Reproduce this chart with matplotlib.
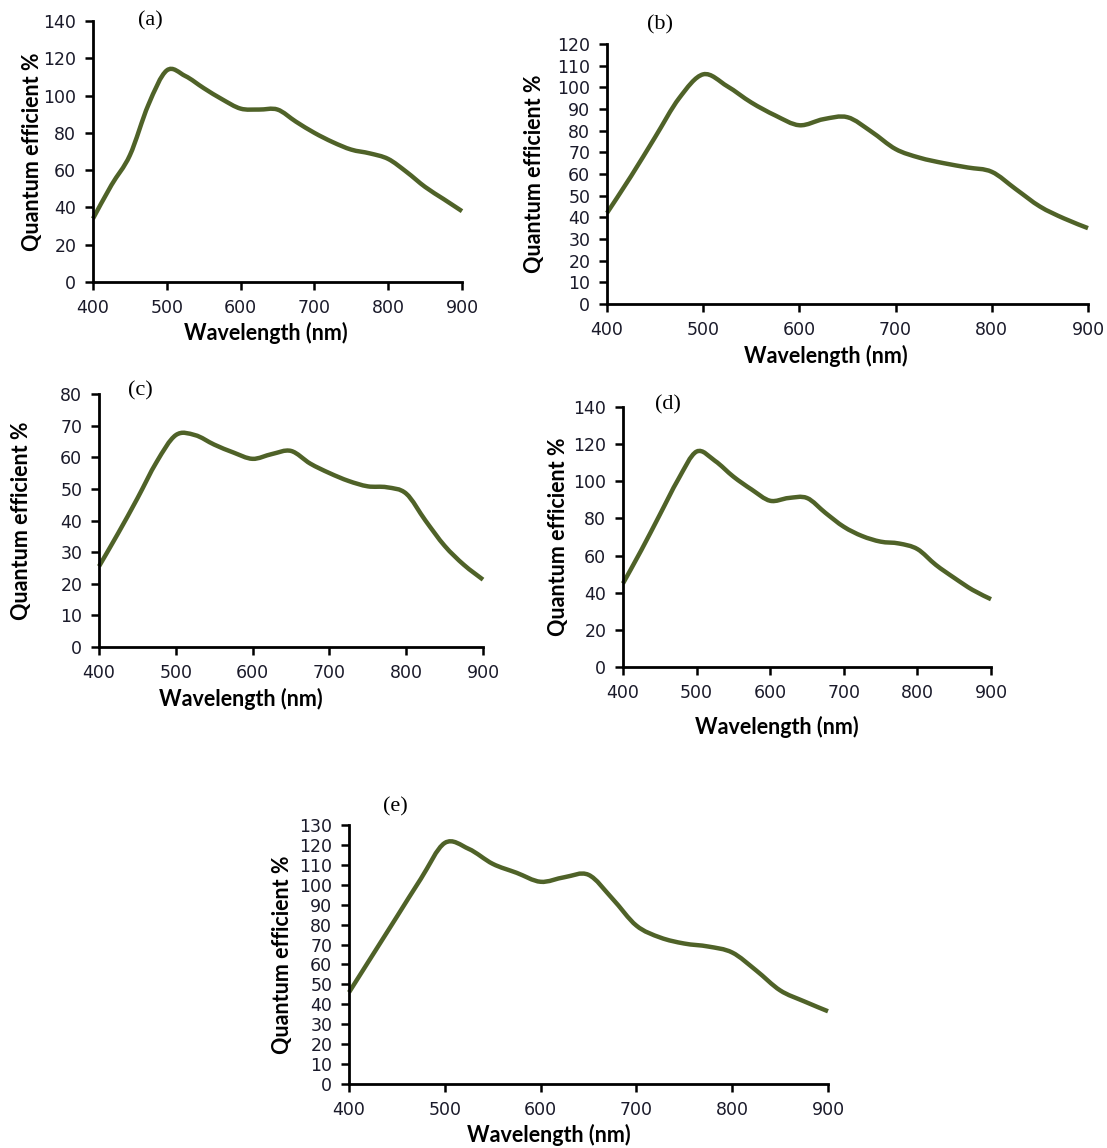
import numpy as np
from matplotlib import pyplot as plt
from matplotlib.path import Path
from matplotlib.patches import PathPatch

plt.rcParams['font.family'] = ['DejaVu Sans']

# wavelength grid (nm) and quantum efficiency (%)
wl = [400, 425, 450, 475, 500, 525, 550, 575, 600, 625, 650,
      675, 700, 725, 750, 775, 800, 825, 850, 875, 900]
qe_a = [34, 52, 68, 95, 113.5, 110.5, 104, 98, 93, 92.5, 92.5,
        86, 80, 75, 71, 69, 66, 59, 51, 44.5, 38]
qe_b = [42, 59, 77, 95, 106, 100.5, 93, 87, 82.5, 85.3, 86.2,
        79.5, 71.5, 67.5, 65, 63, 61, 53, 45, 39.5, 35]
qe_c = [25.5, 36, 47, 58.5, 67, 67, 64, 61.5, 59.5, 61, 62,
        58, 55, 52.5, 50.8, 50.5, 48.5, 40, 32, 26, 21.3]
qe_d = [45, 63, 82, 101, 116, 111, 102.5, 95.5, 89.5, 91, 91,
        83, 75.5, 70.5, 67.5, 66.5, 63.5, 55, 48, 41.5, 36.5]
qe_e = [46, 65, 84, 103, 121, 118, 110.5, 106, 101.5, 103.8, 105,
        93, 79.5, 73.5, 70.5, 69, 66, 57, 47, 41.5, 36.5]

letters = ['(a)', '(b)', '(c)', '(d)', '(e)']
series = [qe_a, qe_b, qe_c, qe_d, qe_e]
ymax = [140, 120, 80, 140, 130]
ystep = [20, 10, 10, 20, 10]
xticks = [400, 500, 600, 700, 800, 900]

W, H = 1107, 1148
# axes boxes in pixels: left, right, top, bottom
boxes = [(93, 462, 21, 282), (607, 1088, 44, 304), (99, 483, 394, 647),
         (623, 991, 407, 667), (349, 828, 825, 1084)]
# letter positions, y-label x, x-label centre, x-label y (pixels)
letter_pos = [(150, 21), (660, 25), (140, 391), (668, 405), (395, 807)]
ylab_x = [33, 535, 22, 558, 283]
xlab_pos = [(266, 333), (826, 356), (241, 699), (777, 727), (549, 1135)]

line_col = '#4f6228'
lab_font = 'Lato'


def smooth_path(x, y):
    # Excel-like smoothed line: Catmull-Rom segments as cubic Beziers
    p = np.column_stack([x, y]).astype(float)
    pp = np.vstack([p[0], p, p[-1]])
    verts = [p[0]]
    codes = [Path.MOVETO]
    for i in range(1, len(pp) - 2):
        c1 = pp[i] + (pp[i + 1] - pp[i - 1]) / 6
        c2 = pp[i + 1] - (pp[i + 2] - pp[i]) / 6
        verts += [c1, c2, pp[i + 1]]
        codes += [Path.CURVE4] * 3
    return Path(verts, codes)


fig = plt.figure(figsize=(W / 100, H / 100), dpi=100)

for k in range(5):
    l, r, t, b = boxes[k]
    ax = fig.add_axes([l / W, 1 - b / H, (r - l) / W, (b - t) / H])
    patch = PathPatch(smooth_path(wl, series[k]), fill=False, edgecolor=line_col,
                      lw=3.2, capstyle='butt', clip_on=False)
    ax.add_patch(patch)
    ax.set_xlim(400, 900)
    ax.set_ylim(0, ymax[k])
    ax.set_xticks(xticks)
    ax.set_yticks(np.arange(0, ymax[k] + 1, ystep[k]))
    for s in ['top', 'right']:
        ax.spines[s].set_visible(False)
    for s in ['left', 'bottom']:
        ax.spines[s].set_linewidth(2)
    ax.tick_params(direction='out', length=6, width=1.8, labelsize=12.5,
                   colors='black', labelcolor='#1a1a2a', pad=6)
    ax.tick_params(axis='y', pad=6)

    fig.text(letter_pos[k][0] / W, 1 - letter_pos[k][1] / H, letters[k],
             family='Liberation Serif', fontsize=16, ha='center', va='center')
    yc = (t + b) / 2
    fig.text(ylab_x[k] / W, 1 - yc / H, 'Quantum efficient %', rotation=90,
             family=lab_font, fontweight='bold', fontsize=15.5,
             ha='center', va='center')
    fig.text(xlab_pos[k][0] / W, 1 - xlab_pos[k][1] / H, 'Wavelength (nm)',
             family=lab_font, fontweight='bold', fontsize=15.5,
             ha='center', va='center')

fig.savefig('out.png', dpi=100)
